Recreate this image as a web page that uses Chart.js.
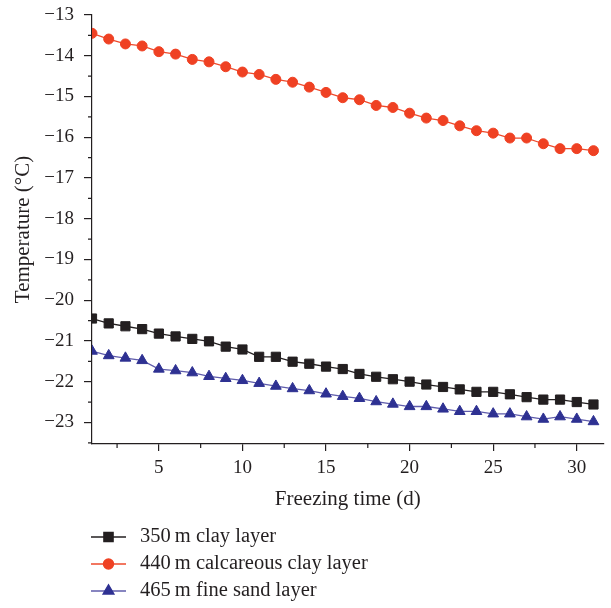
<!DOCTYPE html>
<html>
<head>
<meta charset="utf-8">
<script src="https://cdn.jsdelivr.net/npm/chart.js@4.4.1/dist/chart.umd.min.js"></script>
<style>
  html, body { margin: 0; padding: 0; background: #fff; }
  #wrap { width: 611px; height: 608px; position: relative; }
</style>
</head>
<body>
<div id="wrap"><canvas id="chart"></canvas></div>
<script>
// freezing time (d)
const days = [1, 2, 3, 4, 5, 6, 7, 8, 9, 10, 11, 12, 13, 14, 15, 16,
  17, 18, 19, 20, 21, 22, 23, 24, 25, 26, 27, 28, 29, 30, 31];

// temperature (°C)
const clay350 = [-20.45, -20.57, -20.64, -20.71, -20.82, -20.89, -20.95, -21.01, -21.14, -21.21,
  -21.39, -21.39, -21.51, -21.56, -21.63, -21.69, -21.81, -21.88, -21.94, -22.00,
  -22.07, -22.13, -22.19, -22.25, -22.25, -22.31, -22.38, -22.44, -22.44, -22.50, -22.56];
const calcClay440 = [-13.45, -13.59, -13.71, -13.76, -13.90, -13.96, -14.09, -14.15, -14.27, -14.40,
  -14.46, -14.58, -14.65, -14.77, -14.90, -15.03, -15.08, -15.22, -15.27, -15.41,
  -15.53, -15.59, -15.72, -15.84, -15.90, -16.02, -16.02, -16.16, -16.28, -16.28, -16.33];
const sand465 = [-21.25, -21.36, -21.42, -21.48, -21.69, -21.73, -21.78, -21.87, -21.92, -21.97,
  -22.04, -22.11, -22.17, -22.22, -22.30, -22.36, -22.41, -22.49, -22.55, -22.61,
  -22.61, -22.67, -22.73, -22.73, -22.79, -22.79, -22.86, -22.92, -22.86, -22.92, -22.98];

const seriesNames = ['350\u2009m clay layer', '440\u2009m calcareous clay layer', '465\u2009m fine sand layer'];
const xTicks = [5, 10, 15, 20, 25, 30];
const yTicks = [-23, -22, -21, -20, -19, -18, -17, -16, -15, -14, -13];

const ink = '#231f20';
const serif = "'Liberation Serif', 'DejaVu Serif', serif";

function pts(vals) {
  return days.map((d, i) => ({ x: d, y: vals[i] }));
}

// short ticks halfway between the labelled ones
const minorTicks = {
  id: 'minorTicks',
  afterDraw(chart) {
    const ctx = chart.ctx;
    const xs = chart.scales.x, ys = chart.scales.y;
    ctx.save();
    ctx.strokeStyle = ink;
    ctx.lineWidth = 1.2;
    ctx.beginPath();
    for (let v = 2.5; v < xs.max; v += 5) {
      const px = xs.getPixelForValue(v);
      ctx.moveTo(px, ys.bottom);
      ctx.lineTo(px, ys.bottom + 4);
    }
    for (let v = -13.5; v >= ys.min; v -= 1) {
      const py = ys.getPixelForValue(v);
      ctx.moveTo(xs.left, py);
      ctx.lineTo(xs.left - 4, py);
    }
    ctx.stroke();
    ctx.restore();
  }
};

// legend stacked one per row under the axis title
const stackedLegend = {
  id: 'stackedLegend',
  afterDraw(chart) {
    const ctx = chart.ctx;
    ctx.save();
    ctx.font = '20.5px ' + serif;
    ctx.textBaseline = 'middle';
    chart.data.datasets.forEach((ds, i) => {
      const y = 537 + i * 27;
      ctx.strokeStyle = ds.borderColor;
      ctx.lineWidth = 1.4;
      ctx.beginPath();
      ctx.moveTo(91, y);
      ctx.lineTo(126, y);
      ctx.stroke();
      ctx.fillStyle = ds.pointBackgroundColor;
      ctx.strokeStyle = ds.pointBackgroundColor;
      Chart.helpers.drawPoint(ctx, {
        pointStyle: ds.pointStyle, radius: ds.pointRadius, rotation: 0, borderWidth: 1
      }, 108.5, y);
      ctx.fillStyle = ink;
      ctx.fillText(ds.label, 140, y);
    });
    ctx.restore();
  }
};

new Chart(document.getElementById('chart'), {
  type: 'line',
  data: {
    datasets: [
      {
        label: seriesNames[0],
        data: pts(clay350),
        borderColor: ink,
        borderWidth: 1.3,
        pointStyle: 'rect',
        pointRadius: 6.5,
        pointBackgroundColor: ink,
        pointBorderColor: ink,
        pointBorderWidth: 1
      },
      {
        label: seriesNames[1],
        data: pts(calcClay440),
        borderColor: '#ee4a2c',
        borderWidth: 1.3,
        pointStyle: 'circle',
        pointRadius: 5,
        pointBackgroundColor: '#ef4123',
        pointBorderColor: '#ef4123',
        pointBorderWidth: 1
      },
      {
        label: seriesNames[2],
        data: pts(sand465),
        borderColor: '#5f5cab',
        borderWidth: 1.3,
        pointStyle: 'triangle',
        pointRadius: 6.2,
        pointBackgroundColor: '#2e3192',
        pointBorderColor: '#2e3192',
        pointBorderWidth: 1
      }
    ]
  },
  options: {
    responsive: true,
    maintainAspectRatio: false,
    animation: false,
    layout: { padding: { top: 15, right: 0, bottom: 93, left: 0 } },
    plugins: {
      legend: { display: false },
      tooltip: { enabled: false }
    },
    scales: {
      x: {
        type: 'linear',
        min: 1,
        max: 31.6,
        afterBuildTicks: (s) => { s.ticks = xTicks.map(v => ({ value: v })); },
        afterFit: (s) => { s.height = 71; },
        grid: { display: true, drawOnChartArea: false, drawTicks: true, tickLength: 7, color: ink, lineWidth: 1.2 },
        border: { display: true, color: ink, width: 1.2 },
        ticks: { color: ink, font: { family: serif, size: 19 }, padding: 6, maxRotation: 0 },
        title: { display: true, text: 'Freezing time (d)', color: ink, font: { family: serif, size: 21 }, padding: { top: 0, bottom: 3 } }
      },
      y: {
        min: -23.53,
        max: -13,
        afterBuildTicks: (s) => { s.ticks = yTicks.map(v => ({ value: v })); },
        afterFit: (s) => { s.width = 92; s.paddingTop = 0; s.paddingBottom = 0; },
        grid: { display: true, drawOnChartArea: false, drawTicks: true, tickLength: 8, color: ink, lineWidth: 1.2 },
        border: { display: true, color: ink, width: 1.2 },
        ticks: {
          color: ink,
          font: { family: serif, size: 19 },
          padding: 10,
          callback: (v) => String(v).replace('-', '\u2212')
        },
        title: { display: true, text: 'Temperature (°C)', color: ink, font: { family: serif, size: 21 }, padding: { top: 11, bottom: 0 } }
      }
    }
  },
  plugins: [minorTicks, stackedLegend]
});
</script>
</body>
</html>
